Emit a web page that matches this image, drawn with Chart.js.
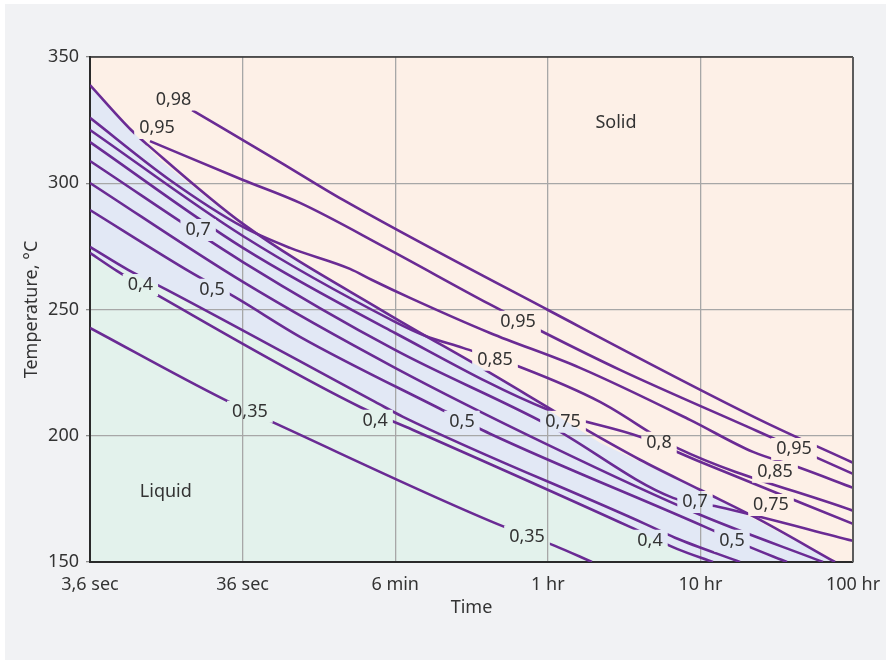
<!DOCTYPE html>
<html>
<head>
<meta charset="utf-8">
<script src="https://cdn.jsdelivr.net/npm/chart.js@4/dist/chart.umd.min.js"></script>
<style>
  html, body { margin: 0; padding: 0; background: #f1f2f4; overflow: hidden; }
  #chart { display: block; }
</style>
</head>
<body>
<canvas id="chart" width="886" height="660"></canvas>
<script>
// Time axis (seconds, log scale) and its labels
const timeTicks = [3.6, 36, 360, 3600, 36000, 360000];
const timeTickLabels = ['3,6 sec', '36 sec', '6 min', '1 hr', '10 hr', '100 hr'];
const tempTicks = [150, 200, 250, 300, 350];

// Iso-fraction lines: [time in s, temperature in °C]
const c098 = [[16.8,329.0],[63.3,308.4],[164,293.4],[3611,249.8],[88470,206.3],[360000,189.3]];
const c095 = [[8.9,316.7],[36.2,301.3],[85.6,292.2],[313,274.4],[1483,252.2],[3451,240.7],[10700,226.1],[84550,201.9],[360000,184.9]];
const c090 = [[3.6,338.9],[6.7,321.1],[8.6,315.2],[36.2,283.9],[313,248.7],[1395,226.1],[6124,203.1],[14470,190.5],[35790,178.6],[88470,166.7],[274400,150]];
const c085 = [[3.6,325.9],[12.0,301.3],[36.2,282.7],[73.6,274.4],[182,266.1],[254,261.7],[450,254.6],[1505,240.7],[5852,226.9],[30770,206.3],[79610,193.6],[154700,187.7],[360000,179.4]];
const c080 = [[3.6,321.1],[36.2,279.1],[359,245.1],[564,239.6],[1000,234.8],[2439,226.9],[7914,213.4],[25290,195.2],[360000,170.3]];
const c075 = [[3.6,316.3],[36.2,274.4],[359,240.7],[3611,210.3],[14470,199.6],[35790,189.7],[360000,165.1]];
const c070 = [[3.6,308.8],[36.2,268.8],[359,234.0],[3611,204.3],[23810,175.4],[46950,171.9],[360000,158.4]];
const c065 = [[3.6,300.1],[36.2,260.9],[359,226.9],[3611,196.4],[35790,168.7],[228900,150]];
const c050 = [[3.6,289.4],[16.3,264.9],[33.6,254.2],[85.6,239.2],[708,210.7],[1505,200.8],[38590,163.9],[72720,156.4],[133000,150]];
const c045 = [[3.6,274.8],[6.4,265.7],[11.5,257.8],[266,213.4],[405,207.5],[15610,165.1],[24540,159.6],[65450,150]];
const c040 = [[3.6,272.4],[5.4,265.3],[11.3,253.8],[212,211.4],[471,202.3],[12450,163.9],[25290,155.2],[43540,150]];
const c035 = [[3.6,242.7],[26.8,214.6],[66.2,203.5],[1673,165.1],[4013,156.4],[7015,150]];
const contours = [c098, c095, c090, c085, c080, c075, c070, c065, c050, c045, c040, c035];

// Inline contour labels
const labelText = ['0,98','0,95','0,7','0,4','0,5','0,35','0,4','0,5','0,75','0,95','0,85','0,8','0,95','0,85','0,7','0,75','0,35','0,4','0,5'];
const labelTime = [12.7, 9.9, 18.4, 7.7, 22.7, 40.2, 266, 986, 4529, 2296, 1623, 19280, 147800, 111000, 33180, 104400, 2630, 16830, 58000];
const labelTemp = [333.2, 321.9, 281.5, 259.7, 257.8, 209.5, 205.9, 205.5, 205.5, 245.1, 230.1, 197.2, 194.8, 185.7, 173.8, 172.6, 160.0, 158.4, 158.4];

// Phase regions: upper edge of the mixed band, upper edge of the liquid field
const mixedUpper = [[3.6,338.9],[6.7,321.1],[10.35,309.2],[36.2,282.7],[313,248.7],[1395,226.1],[7914,197.2],[37440,177.8],[274400,150]];
const liquidUpper = [[3.6,271.6],[10.8,258.6],[85.6,230.1],[450,206.3],[3201,180.2],[37440,150]];
const regionText = ['Solid', 'Liquid'];
const regionTime = [10070, 11.3];
const regionTemp = [323.9, 177.6];

const FONT = '"Noto Sans", "Open Sans", sans-serif';
const TEXT = '#333333';
const LINE = '#6a2b94';

const canvas = document.getElementById('chart');

function labelBoxes(chart) {
  const {x, y} = chart.scales;
  const ctx = chart.ctx;
  ctx.save();
  ctx.font = '18px ' + FONT;
  const boxes = labelText.map((t, i) => {
    const w = ctx.measureText(t).width + 10;
    const h = 22;
    const cx = x.getPixelForValue(labelTime[i]);
    const cy = y.getPixelForValue(labelTemp[i]);
    return {t, cx, cy, w, h};
  });
  ctx.restore();
  return boxes;
}

const phasePlugin = {
  id: 'phases',
  beforeDraw(chart) {
    const {ctx, chartArea: a, scales: {x, y}} = chart;
    ctx.save();
    ctx.fillStyle = '#ffffff';
    ctx.fillRect(0, 0, chart.width, chart.height);
    ctx.fillStyle = '#f1f2f4';
    ctx.fillRect(5, 4, chart.width - 5, chart.height - 4);
    ctx.fillStyle = '#fdf0e7';
    ctx.fillRect(a.left, a.top, a.right - a.left, a.bottom - a.top);
    const region = (pts, color) => {
      ctx.beginPath();
      pts.forEach((p, i) => {
        const px = x.getPixelForValue(p[0]), py = y.getPixelForValue(p[1]);
        if (i === 0) ctx.moveTo(px, py); else ctx.lineTo(px, py);
      });
      ctx.lineTo(a.left, a.bottom);
      ctx.closePath();
      ctx.fillStyle = color;
      ctx.fill();
    };
    ctx.beginPath();
    ctx.rect(a.left, a.top, a.right - a.left, a.bottom - a.top);
    ctx.clip();
    region(mixedUpper, '#e2e8f5');
    region(liquidUpper, '#e3f2ec');
    ctx.restore();
  },
  beforeDatasetsDraw(chart) {
    const {ctx, chartArea: a} = chart;
    ctx.save();
    ctx.beginPath();
    ctx.rect(a.left, a.top, a.right - a.left, a.bottom - a.top);
    labelBoxes(chart).forEach(b => ctx.rect(b.cx - b.w / 2, b.cy - b.h / 2, b.w, b.h));
    ctx.clip('evenodd');
  },
  afterDatasetsDraw(chart) {
    const {ctx, chartArea: a, scales: {x, y}} = chart;
    ctx.restore();
    ctx.save();
    ctx.font = '18px ' + FONT;
    ctx.fillStyle = TEXT;
    ctx.textAlign = 'center';
    ctx.textBaseline = 'middle';
    labelBoxes(chart).forEach(b => ctx.fillText(b.t, b.cx, b.cy));
    regionText.forEach((t, i) => ctx.fillText(t, x.getPixelForValue(regionTime[i]), y.getPixelForValue(regionTemp[i])));
    ctx.strokeStyle = '#2e2e2e';
    ctx.lineWidth = 1.5;
    ctx.beginPath();
    ctx.moveTo(a.left, a.top);
    ctx.lineTo(a.right, a.top);
    ctx.stroke();
    ctx.strokeStyle = '#5c5c5c';
    ctx.lineWidth = 2;
    ctx.beginPath();
    ctx.moveTo(a.right, a.top);
    ctx.lineTo(a.right, a.bottom);
    ctx.stroke();
    ctx.restore();
  }
};

const datasets = contours.map(c => ({
  data: c.map(p => ({x: p[0], y: p[1]})),
  showLine: true,
  borderColor: LINE,
  borderWidth: 2.6,
  pointRadius: 0,
  cubicInterpolationMode: 'monotone',
  fill: false
}));

new Chart(canvas, {
  type: 'scatter',
  data: { datasets },
  options: {
    responsive: false,
    devicePixelRatio: 1,
    animation: false,
    events: [],
    layout: { padding: { top: 57, right: 33, left: 0, bottom: 0 } },
    plugins: { legend: { display: false }, tooltip: { enabled: false } },
    scales: {
      x: {
        type: 'logarithmic',
        min: 3.6, max: 360000,
        afterBuildTicks: s => { s.ticks = timeTicks.map(v => ({value: v})); },
        afterFit: s => { s.height = 98; s.paddingLeft = 0; s.paddingRight = 0; },
        ticks: {
          autoSkip: false, maxRotation: 0, padding: 12,
          color: TEXT, font: { family: FONT, size: 18 },
          callback: (v) => { const i = timeTicks.indexOf(v); return i >= 0 ? timeTickLabels[i] : ''; }
        },
        grid: { color: '#a7a7a7', lineWidth: 1.3, drawTicks: false },
        border: { color: '#2a2a2a', width: 2 },
        title: { display: true, text: 'Time', color: TEXT, font: { family: FONT, size: 18 }, padding: { top: 0, bottom: 41 } }
      },
      y: {
        type: 'linear',
        min: 150, max: 350,
        afterBuildTicks: s => { s.ticks = tempTicks.map(v => ({value: v})); },
        afterFit: s => { s.width = 90; s.paddingTop = 0; s.paddingBottom = 0; },
        ticks: { padding: 7, color: TEXT, font: { family: FONT, size: 18 } },
        grid: { color: '#a7a7a7', lineWidth: 1.3, tickLength: 4, tickColor: '#8c8c8c' },
        border: { color: '#2a2a2a', width: 2 },
        title: { display: true, text: 'Temperature, °C', color: TEXT, font: { family: FONT, size: 18 }, padding: { top: 21, bottom: 0 } }
      }
    }
  },
  plugins: [phasePlugin]
});
</script>
</body>
</html>
